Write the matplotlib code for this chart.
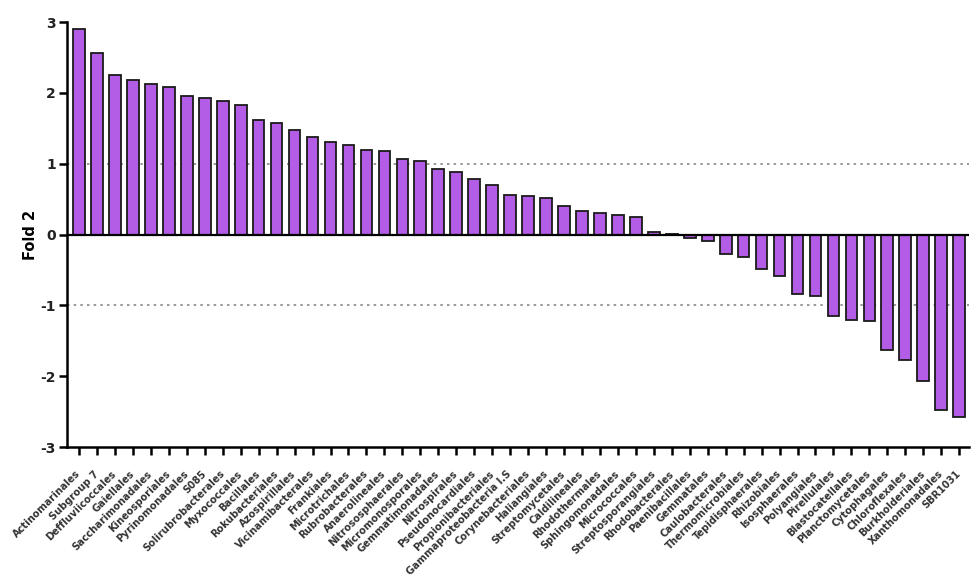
import matplotlib
matplotlib.use("Agg")
import matplotlib.pyplot as plt
import numpy as np

# ==========================================
# 1. DATA
# ==========================================

ORDERS = [
    "Actinomarinales", "Subgroup 7", "Deffluviicoccales", "Gaiellales",
    "Saccharimonadales", "Kineosporiales", "Pyrinomonadales", "S085",
    "Solirubrobacterales", "Myxococcales", "Bacillales", "Rokubacteriales",
    "Azospirillales", "Vicinamibacterales", "Frankiales", "Microtrichales",
    "Rubrobacterales", "Anaerolineales", "Nitrososphaerales", "Micromonosporales",
    "Gemmatimonadales", "Nitrospirales", "Pseudonocardiales", "Propionibacteriales",
    "Gammaproteobacteria I.S", "Corynebacteriales", "Haliangiales", "Streptomycetales",
    "Caldilineales", "Rhodothermales", "Sphingomonadales", "Micrococcales",
    "Streptosporangiales", "Rhodobacterales", "Paenibacillales", "Gemmatales",
    "Caulobacterales", "Thermomicrobiales", "Tepidisphaerales", "Rhizobiales",
    "Isosphaerales", "Polyangiales", "Pirellulales", "Blastocatellales",
    "Planctomycetales", "Cytophagales", "Chloroflexales", "Burkholderiales",
    "Xanthomonadales", "SBR1031",
]

FOLD_2 = [
    2.90, 2.56, 2.25, 2.18, 2.12, 2.08, 1.96, 1.93, 1.88, 1.83,
    1.62, 1.57, 1.47, 1.38, 1.31, 1.26, 1.20, 1.18, 1.07, 1.04,
    0.93, 0.89, 0.78, 0.70, 0.56, 0.55, 0.52, 0.40, 0.33, 0.31,
    0.27, 0.25, 0.03, 0.01, -0.05, -0.09, -0.27, -0.31, -0.48, -0.58,
    -0.84, -0.87, -1.15, -1.20, -1.22, -1.63, -1.77, -2.07, -2.48, -2.57,
]

Y_TICKS = [-3, -2, -1, 0, 1, 2, 3]

BAR_COLOR = "#B35CE6"

# ==========================================
# 2. PLOTTING
# ==========================================

fig = plt.figure(figsize=(9.71, 5.8), dpi=100)
ax = fig.add_axes([0.069, 0.229, 0.929, 0.733])

x = np.arange(len(ORDERS))
ax.bar(x, FOLD_2, width=0.65, color=BAR_COLOR, edgecolor="#1a1a1a", linewidth=1.3, zorder=3)

# reference lines
ax.axhline(0, color="black", linewidth=1.6, zorder=4)
for yv in (1, -1):
    ax.axhline(yv, color="#888888", linestyle=(0, (1.5, 2.5)), linewidth=1.2, zorder=1)

ax.set_xlim(-0.67, len(ORDERS) - 0.45)
ax.set_ylim(-3, 3)
ax.set_yticks(Y_TICKS)
ax.set_yticklabels([str(v) for v in Y_TICKS], fontsize=10, fontweight="bold", color="#222222")

ax.set_xticks(x)
ax.set_xticklabels(ORDERS, rotation=45, ha="right", va="center",
                   rotation_mode="anchor", fontsize=7.1, fontweight="bold", color="#333333")

ax.tick_params(axis="y", length=6, width=1.8, pad=2)
ax.tick_params(axis="x", length=6, width=1.8, pad=12)

ax.set_ylabel("Fold 2", fontsize=10.5, fontweight="bold", labelpad=2)

for side in ("top", "right"):
    ax.spines[side].set_visible(False)
for side in ("left", "bottom"):
    ax.spines[side].set_linewidth(1.8)

plt.savefig("out.png", dpi=100)
plt.close()
